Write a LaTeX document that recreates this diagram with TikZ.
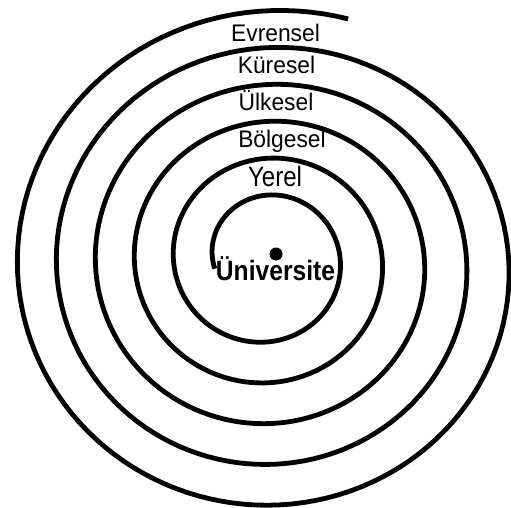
\documentclass[tikz,border=0pt]{standalone}
\usepackage{fontspec}
\setmainfont{Liberation Sans}
\newfontfamily\lblfontA[FakeStretch=0.95]{Liberation Sans}
\newfontfamily\lblfontB[FakeStretch=0.86]{Liberation Sans}
\newfontfamily\lblfontC[FakeStretch=0.88]{Liberation Sans}
\begin{document}
\begin{tikzpicture}[x=1pt,y=-1pt,
  lbl/.style={inner sep=0pt, anchor=base, font=\lblfontA\fontsize{24}{24}\selectfont},
  spiralline/.style={line width=4.8pt, line cap=butt, line join=round}]
\useasboundingbox (0,0) rectangle (511,508);
\fill[white] (0,0) rectangle (511,508);
\draw[spiralline] plot[domain=-12:1906, samples=700]
  ({265.75 + 0.8*(\x/180) - (53.35 + 20.3*(\x/180))*cos(\x)},
   {257.9 + 0.965*(\x/180) - (53.5 + 19.43*(\x/180))*sin(\x)});
\node[circle, fill=black, minimum size=13pt, inner sep=0pt] (dot) at (276,254) {};
\node[lbl] (evrensel) at (275.5,42) {Evrensel};
\node[lbl] (kuresel) at (276.5,74) {Küresel};
\node[lbl] (ulkesel) at (276,111) {Ülkesel};
\node[lbl] (bolgesel) at (282,147) {Bölgesel};
\node[lbl, font=\lblfontB\fontsize{28}{28}\selectfont] (yerel) at (275,186.5) {Yerel};
\node[lbl, font=\lblfontC\fontsize{28}{28}\selectfont\bfseries] (universite) at (275.5,280.5) {Üniversite};
\end{tikzpicture}
\end{document}
